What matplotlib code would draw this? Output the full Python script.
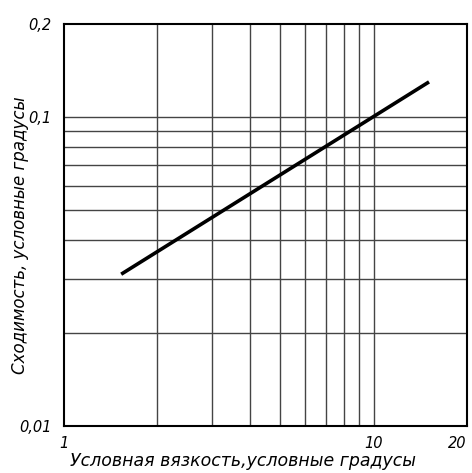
import matplotlib
matplotlib.use("Agg")
import matplotlib.pyplot as plt
from matplotlib.ticker import FixedLocator, NullLocator

# Data
line_x = [1.53, 15.1]
line_y = [0.031, 0.13]
x_grid = [2, 3, 4, 5, 6, 7, 8, 9, 10]
y_grid = [0.02, 0.03, 0.04, 0.05, 0.06, 0.07, 0.08, 0.09, 0.1]
x_ticks = [1, 10, 20]
x_ticklabels = ["1", "10", "20"]
y_ticks = [0.01, 0.1, 0.2]
y_ticklabels = ["0,01", "0,1", "0,2"]
x_label = "Условная вязкость,условные градусы"
y_label = "Сходимость, условные градусы"

fig = plt.figure(figsize=(4.72, 4.73), dpi=100)
ax = fig.add_axes([0.1356, 0.0994, 0.8534, 0.8496])
ax.set_xscale("log")
ax.set_yscale("log")
ax.set_xlim(1, 20)
ax.set_ylim(0.01, 0.2)

for xv in x_grid:
    ax.axvline(xv, color="#444444", lw=1.0, zorder=1)
for yv in y_grid:
    ax.axhline(yv, color="#444444", lw=1.0, zorder=1)

ax.plot(line_x, line_y, color="black", lw=2.6, solid_capstyle="butt", zorder=3)

ax.xaxis.set_major_locator(FixedLocator(x_ticks))
ax.xaxis.set_minor_locator(NullLocator())
ax.yaxis.set_major_locator(FixedLocator(y_ticks))
ax.yaxis.set_minor_locator(NullLocator())
ax.set_xticklabels(x_ticklabels, fontstyle="italic", fontsize=10.5)
ax.set_yticklabels(y_ticklabels, fontstyle="italic", fontsize=10.5)
ax.tick_params(axis="x", length=0, pad=7)
ax.tick_params(axis="y", length=0, pad=9)
xt = ax.get_xticklabels()
xt[-1].set_ha("right")

for s in ax.spines.values():
    s.set_linewidth(1.5)
    s.set_color("black")

ax.set_xlabel(x_label, fontstyle="italic", fontsize=12.5, ha="left", va="center")
ax.xaxis.set_label_coords(6 / 403, -35 / 402)
ax.set_ylabel(y_label, fontstyle="italic", fontsize=12, va="center")
ax.yaxis.set_label_coords(-44 / 403, 0.476)

fig.savefig("out.png", dpi=100)
